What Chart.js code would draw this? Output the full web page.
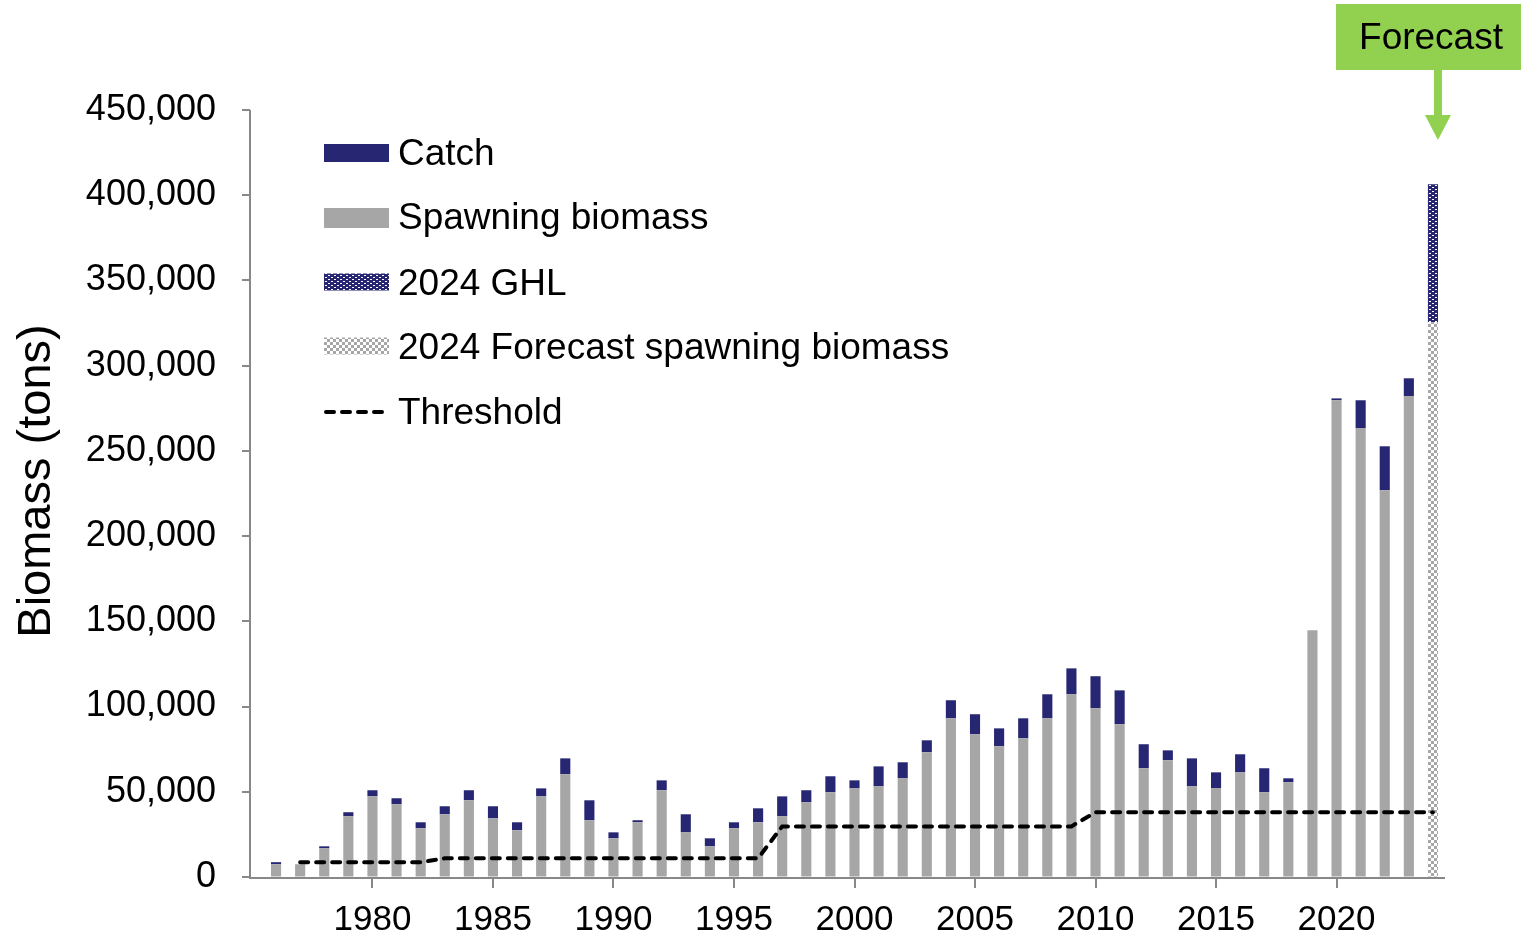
<!DOCTYPE html>
<html>
<head>
<meta charset="utf-8">
<title>Biomass (tons)</title>
<script src="https://cdn.jsdelivr.net/npm/chart.js@4.4.1/dist/chart.umd.min.js"></script>
<style>
  html, body { margin: 0; padding: 0; background: #fff; }
  #wrap { position: relative; width: 1521px; height: 937px; }
</style>
</head>
<body>
<div id="wrap"><canvas id="chart-biomass"></canvas></div>
<script>
/* Spawning biomass, catch, forecast and threshold by year (tons) */
var YEARS = [1976, 1977, 1978, 1979, 1980, 1981, 1982, 1983, 1984, 1985,
  1986, 1987, 1988, 1989, 1990, 1991, 1992, 1993, 1994, 1995,
  1996, 1997, 1998, 1999, 2000, 2001, 2002, 2003, 2004, 2005,
  2006, 2007, 2008, 2009, 2010, 2011, 2012, 2013, 2014, 2015,
  2016, 2017, 2018, 2019, 2020, 2021, 2022, 2023, 2024];

var SPAWNING = [7500, 7500, 16800, 35600, 47300, 42700, 28600, 36800, 45000, 34400,
  27400, 47300, 60300, 33300, 22700, 32100, 50900, 26200, 18000, 28600,
  32100, 35600, 43800, 49700, 52000, 53200, 57900, 73200, 93100, 83700,
  76700, 81400, 93100, 107200, 99000, 89600, 63800, 68500, 53200, 52000,
  61400, 49700, 55600, 144700, 279700, 263200, 226900, 282000, null];

var CATCH = [1200, 0, 1200, 2400, 3600, 3500, 3500, 4700, 5900, 7100,
  4700, 4700, 9300, 11700, 3500, 1200, 5800, 10600, 4700, 3500,
  8200, 11700, 7100, 9400, 4700, 11700, 9400, 7000, 10600, 11800,
  10500, 11700, 14100, 15200, 18800, 19900, 14100, 5800, 16400, 9400,
  10600, 14100, 2300, 0, 1100, 16500, 25800, 10600, null];

var FORECAST_SB = [null, null, null, null, null, null, null, null, null, null,
  null, null, null, null, null, null, null, null, null, null,
  null, null, null, null, null, null, null, null, null, null,
  null, null, null, null, null, null, null, null, null, null,
  null, null, null, null, null, null, null, null, 325400];

var GHL = [null, null, null, null, null, null, null, null, null, null,
  null, null, null, null, null, null, null, null, null, null,
  null, null, null, null, null, null, null, null, null, null,
  null, null, null, null, null, null, null, null, null, null,
  null, null, null, null, null, null, null, null, 81000];

var THRESHOLD = [null, 8600, 8600, 8600, 8600, 8600, 8600, 11000, 11000, 11000,
  11000, 11000, 11000, 11000, 11000, 11000, 11000, 11000, 11000, 11000,
  11000, 29700, 29700, 29700, 29700, 29700, 29700, 29700, 29700, 29700,
  29700, 29700, 29700, 29700, 38000, 38000, 38000, 38000, 38000, 38000,
  38000, 38000, 38000, 38000, 38000, 38000, 38000, 38000, 38000];

var Y_TICKS = [0, 50000, 100000, 150000, 200000, 250000, 300000, 350000, 400000, 450000];

(function () {
  'use strict';

  var NAVY = '#262673';
  var GREY = '#a6a6a6';
  var AXIS = '#888888';
  var GREEN = '#92d050';
  var FONT = "'Liberation Sans', Arial, sans-serif";
  var AXIS_X = 250; // the value axis sits a little left of the first category

  function makePattern(w, h, draw) {
    var c = document.createElement('canvas');
    c.width = w;
    c.height = h;
    var g = c.getContext('2d');
    draw(g);
    return g.createPattern(c, 'repeat');
  }

  /* navy with offset white dashes */
  var ghlPattern = makePattern(6, 4, function (g) {
    g.fillStyle = NAVY;
    g.fillRect(0, 0, 6, 4);
    g.fillStyle = '#ffffff';
    g.fillRect(1, 1, 2, 1);
    g.fillRect(4, 3, 2, 1);
  });

  /* grey / white checkerboard */
  var checkPattern = makePattern(6, 6, function (g) {
    g.fillStyle = '#ffffff';
    g.fillRect(0, 0, 6, 6);
    g.fillStyle = GREY;
    g.fillRect(0, 0, 3, 3);
    g.fillRect(3, 3, 3, 3);
  });

  var LEGEND_ROWS = [
    { idx: 1, cy: 155, sy: 153, h: 18 },
    { idx: 0, cy: 219, sy: 218, h: 20 },
    { idx: 3, cy: 285, sy: 282, h: 17 },
    { idx: 2, cy: 349, sy: 346, h: 17 },
    { idx: 4, cy: 414, sy: 412, h: 0 }
  ];

  var axesPlugin = {
    id: 'axes',
    afterDatasetsDraw: function (chart) {
      var ctx = chart.ctx;
      var area = chart.chartArea;
      var y = chart.scales.y;
      ctx.save();
      ctx.strokeStyle = AXIS;
      ctx.lineWidth = 2;
      ctx.beginPath();
      ctx.moveTo(AXIS_X, area.top);
      ctx.lineTo(AXIS_X, area.bottom + 1);
      ctx.lineTo(area.right, area.bottom + 1);
      Y_TICKS.forEach(function (v) {
        var py = Math.round(y.getPixelForValue(v));
        ctx.moveTo(AXIS_X - 8, py);
        ctx.lineTo(AXIS_X, py);
      });
      ctx.stroke();
      ctx.restore();
    }
  };

  var overlayPlugin = {
    id: 'overlay',
    afterDraw: function (chart) {
      var ctx = chart.ctx;
      var ds = chart.data.datasets;
      ctx.save();

      /* legend */
      ctx.font = '37px ' + FONT;
      ctx.textBaseline = 'middle';
      ctx.textAlign = 'left';
      LEGEND_ROWS.forEach(function (r) {
        var d = ds[r.idx];
        if (d.type === 'line') {
          ctx.strokeStyle = '#000';
          ctx.lineWidth = 4;
          ctx.lineCap = 'round';
          ctx.setLineDash([8, 8]);
          ctx.beginPath();
          ctx.moveTo(326, r.sy);
          ctx.lineTo(390, r.sy);
          ctx.stroke();
          ctx.setLineDash([]);
        } else {
          ctx.fillStyle = d.backgroundColor;
          ctx.fillRect(324, r.sy - r.h / 2, 65, r.h);
        }
        ctx.fillStyle = '#000';
        ctx.fillText(d.label, 398, r.cy);
      });

      /* y axis title */
      ctx.save();
      ctx.translate(50, 481);
      ctx.rotate(-Math.PI / 2);
      ctx.font = '47px ' + FONT;
      ctx.textAlign = 'center';
      ctx.textBaseline = 'alphabetic';
      ctx.fillStyle = '#000';
      ctx.fillText('Biomass (tons)', 0, 0);
      ctx.restore();

      /* Forecast callout */
      var x = chart.scales.x.getPixelForValue(YEARS.length - 1) + 5;
      ctx.fillStyle = GREEN;
      ctx.fillRect(1336, 4, 185, 66);
      ctx.fillStyle = '#000';
      ctx.font = '37px ' + FONT;
      ctx.textAlign = 'center';
      ctx.textBaseline = 'middle';
      ctx.fillText('Forecast', 1431, 39);
      ctx.fillStyle = GREEN;
      ctx.fillRect(x - 4, 70, 8, 48);
      ctx.beginPath();
      ctx.moveTo(x - 13, 115);
      ctx.lineTo(x + 13, 115);
      ctx.lineTo(x, 140);
      ctx.closePath();
      ctx.fill();

      ctx.restore();
    }
  };

  function barSet(label, data, color) {
    return {
      type: 'bar',
      label: label,
      data: data,
      backgroundColor: color,
      borderWidth: 0,
      stack: 'bio',
      order: 1,
      categoryPercentage: 1,
      barPercentage: 0.42
    };
  }

  new Chart(document.getElementById('chart-biomass'), {
    data: {
      labels: YEARS,
      datasets: [
        barSet('Spawning biomass', SPAWNING, GREY),
        barSet('Catch', CATCH, NAVY),
        barSet('2024 Forecast spawning biomass', FORECAST_SB, checkPattern),
        barSet('2024 GHL', GHL, ghlPattern),
        {
          type: 'line',
          label: 'Threshold',
          data: THRESHOLD,
          borderColor: '#000',
          borderWidth: 4,
          borderDash: [8, 8],
          borderCapStyle: 'round',
          pointRadius: 0,
          tension: 0,
          fill: false,
          stack: 'threshold',
          order: 0
        }
      ]
    },
    options: {
      responsive: true,
      maintainAspectRatio: false,
      animation: false,
      layout: { padding: { left: 0, top: 110, right: 76, bottom: 0 } },
      plugins: {
        legend: { display: false },
        tooltip: { enabled: false }
      },
      scales: {
        x: {
          stacked: true,
          afterFit: function (s) { s.height = 60; },
          border: { display: false },
          grid: {
            offset: false,
            drawOnChartArea: false,
            drawTicks: true,
            tickLength: 11,
            lineWidth: 2,
            color: function (c) {
              return YEARS[c.index] % 5 === 0 ? AXIS : 'rgba(0,0,0,0)';
            }
          },
          ticks: {
            autoSkip: false,
            maxRotation: 0,
            padding: 11,
            color: '#000',
            font: { family: FONT, size: 35 },
            callback: function (v, i) {
              return YEARS[i] % 5 === 0 ? String(YEARS[i]) : '';
            }
          }
        },
        y: {
          stacked: true,
          min: Y_TICKS[0],
          max: Y_TICKS[Y_TICKS.length - 1],
          afterFit: function (s) { s.width = 264; },
          afterBuildTicks: function (s) {
            s.ticks = Y_TICKS.map(function (v) { return { value: v }; });
          },
          border: { display: false },
          grid: {
            drawOnChartArea: false,
            drawTicks: true,
            tickLength: 22,
            color: 'rgba(0,0,0,0)'
          },
          ticks: {
            padding: 26,
            color: '#000',
            font: { family: FONT, size: 36 },
            callback: function (v) { return v.toLocaleString('en-US'); }
          }
        }
      }
    },
    plugins: [axesPlugin, overlayPlugin]
  });
})();
</script>
</body>
</html>
